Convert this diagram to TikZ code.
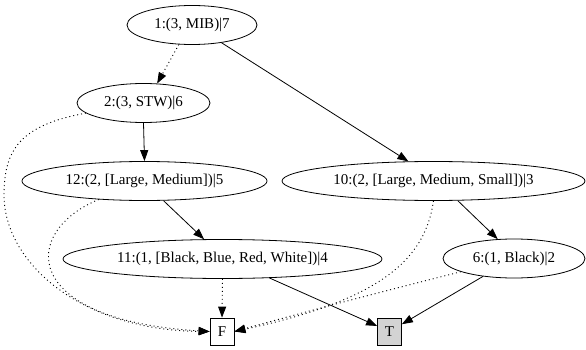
\documentclass[tikz,border=0pt]{standalone}
\usepackage{fontspec}
\setmainfont{Liberation Serif}
\usetikzlibrary{shapes.geometric,arrows.meta}
\begin{document}
\begin{tikzpicture}[x=1pt,y=-1pt,
  every node/.style={font=\fontsize{15}{18}\selectfont, inner sep=0pt},
  ell/.style={draw, ellipse, line width=0.8pt, minimum height=39pt},
  sq/.style={draw, rectangle, line width=0.8pt, minimum width=24pt, minimum height=27pt},
  arr/.style={line width=0.8pt, -{Triangle[length=11pt,width=8pt]}},
  dotarr/.style={line width=0.9pt, dash pattern=on 1pt off 3pt, -{Triangle[length=11pt,width=8pt]}}
]
\fill[white] (0,0) rectangle (586,350);
\useasboundingbox (0,0) rectangle (586,350);

\node[ell, minimum width=130pt] (n1) at (192,25) {1:(3, MIB)|7};
\node[ell, minimum width=133pt] (n2) at (143.5,103) {2:(3, STW)|6};
\node[ell, minimum width=245pt] (n12) at (144.5,181) {12:(2, [Large, Medium])|5};
\node[ell, minimum width=303pt] (n10) at (433.5,181) {10:(2, [Large, Medium, Small])|3};
\node[ell, minimum width=319pt] (n11) at (222.5,259) {11:(1, [Black, Blue, Red, White])|4};
\node[ell, minimum width=142pt] (n6) at (514,258.5) {6:(1, Black)|2};
\node[sq, fill=white] (nF) at (222,331.5) {F};
\node[sq, fill={rgb,255:red,211;green,211;blue,211}] (nT) at (389.5,331.5) {T};

\draw[dotarr] (n1.236) -- (n2.55);
\draw[arr] (n1.329) -- (n10.142);
\draw[arr] (n2.south) -- (n12.north);
\draw[arr] (n12.314) -- (n11.133);
\draw[arr] (n10.321) -- (n6.130);
\draw[arr] (n11.338) -- (nT);
\draw[arr] (n6.210) -- (nT);
\draw[dotarr] (n11.south) -- (nF.north);
\draw[dotarr] (n2.190) .. controls (20,125) and (4,150) .. (4,195) .. controls (4,262) and (80,330) .. (nF.west);
\draw[dotarr] (n12.202) .. controls (20,232) and (20,320) .. (nF.west);
\draw[dotarr] (n10.south) .. controls (425,260) and (380,300) .. (nF.east);
\draw[dotarr] (n6.194) .. controls (420,282) and (330,305) .. (nF.east);
\end{tikzpicture}
\end{document}
